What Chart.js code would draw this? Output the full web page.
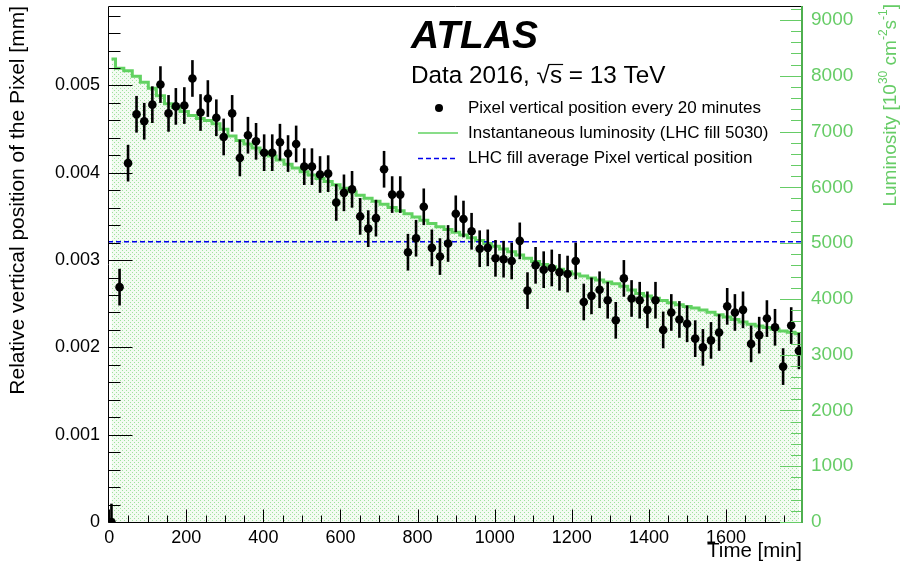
<!DOCTYPE html>
<html><head><meta charset="utf-8">
<script src="https://cdn.jsdelivr.net/npm/chart.js@4.4.0/dist/chart.umd.min.js"></script>
<style>html,body{margin:0;padding:0;background:#fff;overflow:hidden}</style>
</head><body>
<canvas id="c" width="904" height="573"></canvas>
<script>
// ---- data ----
const timeMin = [6,27,49,71,91,112,133,154,173,195,
  216,237,256,278,297,319,339,360,381,402,
  423,443,464,485,506,526,547,568,589,609,
  630,651,672,692,713,734,755,775,796,816,
  837,858,879,899,919,940,961,982,1002,1023,
  1044,1065,1085,1106,1127,1148,1168,1189,1210,1231,
  1251,1272,1293,1314,1335,1355,1376,1396,1417,1437,
  1458,1479,1499,1520,1540,1561,1582,1603,1623,1644,
  1665,1686,1706,1727,1748,1769,1789];
const pixelPos = [0,0.00269,0.00411,0.00467,0.00459,0.00478,0.00501,0.00468,0.00476,0.00477,
  0.00508,0.00469,0.00485,0.00463,0.00441,0.00468,0.00417,0.00443,0.00436,0.00423,
  0.00423,0.00435,0.00422,0.00433,0.00407,0.00407,0.00398,0.00399,0.00366,0.00377,
  0.00381,0.00350,0.00336,0.00348,0.00404,0.00375,0.00375,0.00309,0.00325,0.00361,
  0.00314,0.00304,0.00319,0.00353,0.00347,0.00333,0.00313,0.00314,0.00302,0.00301,
  0.00299,0.00322,0.00265,0.00294,0.00289,0.00291,0.00286,0.00284,0.00299,0.00252,
  0.00259,0.00266,0.00254,0.00231,0.00279,0.00256,0.00254,0.00243,0.00254,0.00220,
  0.00240,0.00232,0.00227,0.00210,0.00200,0.00208,0.00217,0.00247,0.00240,0.00243,
  0.00204,0.00214,0.00233,0.00223,0.00178,0.00225,0.00196];
const posError = 0.00021;
const luminosity = [8300,8134,8090,7990,7885,7775,7640,7500,7430,7360,
  7290,7235,7200,7140,7040,6920,6840,6775,6705,6635,
  6560,6490,6415,6345,6280,6220,6160,6105,6045,5985,
  5920,5860,5805,5750,5695,5640,5580,5525,5470,5410,
  5350,5295,5245,5195,5145,5095,5045,4995,4945,4895,
  4845,4785,4730,4670,4615,4575,4530,4485,4445,4410,
  4375,4340,4305,4270,4225,4160,4095,4050,4010,3970,
  3930,3895,3865,3835,3800,3760,3715,3675,3630,3585,
  3545,3515,3485,3455,3425,3400,3375];
const fillAveragePos = 0.00321;
const xTickValues = [0,200,400,600,800,1000,1200,1400,1600];
const yTickValues = [0,0.001,0.002,0.003,0.004,0.005];
const lumiTickValues = [0,1000,2000,3000,4000,5000,6000,7000,8000,9000];
const legendLabels = ['Pixel vertical position every 20 minutes',
  'Instantaneous luminosity (LHC fill 5030)',
  'LHC fill average Pixel vertical position'];

// ---- style ----
const FONT = "'Liberation Sans', Arial, Helvetica, sans-serif";
const X_MIN = -3, X_MAX = 1797, Y_MAX = 0.00591, L_MAX = 9251;
const GREEN = '#62d262', GREEN_TXT = '#66cc66', GREEN_AXIS = '#4faf4f', BLUE = '#0000ee';
Chart.defaults.font.family = FONT;

const canvas = document.getElementById('c');
const ctx0 = canvas.getContext('2d');
function makePattern() {
  const t = document.createElement('canvas'); t.width = 4; t.height = 4;
  const g = t.getContext('2d');
  g.fillStyle = 'rgb(243,251,242)'; g.fillRect(0,0,4,4);
  g.fillStyle = 'rgb(160,226,158)';
  g.fillRect(0,0,1,1); g.fillRect(2,2,1,1);
  return ctx0.createPattern(t, 'repeat');
}

function line(ctx, x1, y1, x2, y2) { ctx.beginPath(); ctx.moveTo(x1, y1); ctx.lineTo(x2, y2); ctx.stroke(); }

const decor = {
  id: 'decor',
  afterDatasetsDraw(chart) {
    const {ctx, chartArea: a, scales: {x, y, y1}} = chart;
    ctx.save();
    ctx.beginPath(); ctx.rect(a.left, a.top, a.right - a.left, a.bottom - a.top); ctx.clip();
    // error bars
    ctx.strokeStyle = '#000'; ctx.lineWidth = 2.6;
    timeMin.forEach((t, i) => {
      const px = x.getPixelForValue(t);
      line(ctx, px, y.getPixelForValue(pixelPos[i] + posError), px, y.getPixelForValue(pixelPos[i] - posError));
    });
    ctx.restore();
    ctx.save();
    // frame
    ctx.strokeStyle = '#000'; ctx.lineWidth = 1;
    const L = Math.round(a.left) + 0.5, B = Math.round(a.bottom) + 0.5, T = Math.round(a.top) + 0.5;
    line(ctx, L, T, a.right, T);
    line(ctx, L, T, L, B);
    line(ctx, L, B, a.right, B);
    // x ticks
    for (let v = 0; v <= X_MAX; v += 50) {
      const p = Math.round(x.getPixelForValue(v)) + 0.5;
      line(ctx, p, B, p, B - (v % 200 === 0 ? 13 : 7));
    }
    // left ticks
    for (let k = 0; k * 0.0002 <= Y_MAX; k++) {
      const p = Math.round(y.getPixelForValue(k * 0.0002)) + 0.5;
      line(ctx, L, p, L + (k % 5 === 0 ? 24 : 12), p);
    }
    // right ticks
    ctx.strokeStyle = GREEN_TXT;
    const R = a.right;
    for (let v = 0; v <= L_MAX; v += 200) {
      const p = Math.round(y1.getPixelForValue(v)) + 0.5;
      line(ctx, R, p, R - (v % 1000 === 0 ? 22 : 11), p);
    }
    ctx.strokeStyle = GREEN_AXIS; ctx.lineWidth = 2;
    line(ctx, R, a.top, R, a.bottom + 1);
    ctx.restore();
  },
  afterDraw(chart) {
    const ctx = chart.ctx;
    ctx.save();
    ctx.fillStyle = '#000';
    ctx.textBaseline = 'alphabetic';
    ctx.font = 'italic bold 39px ' + FONT;
    ctx.fillText('ATLAS', 411, 48);
    ctx.font = '24.3px ' + FONT;
    const pre = 'Data 2016, √';
    ctx.fillText(pre + 's = 13 TeV', 411, 83);
    const w1 = ctx.measureText(pre).width, w2 = ctx.measureText('s').width;
    ctx.lineWidth = 1.2; ctx.strokeStyle = '#000';
    line(ctx, 411 + w1 - 1, 64.5, 411 + w1 + w2 + 1, 64.5);
    // legend
    const rows = [108, 133, 158];
    ctx.beginPath(); ctx.arc(439, rows[0], 4, 0, Math.PI * 2); ctx.fill();
    ctx.strokeStyle = GREEN; ctx.lineWidth = 1.6; line(ctx, 418, rows[1], 458, rows[1]);
    ctx.strokeStyle = BLUE; ctx.lineWidth = 1.3; ctx.setLineDash([5, 3]); line(ctx, 418, rows[2] + 0.5, 458, rows[2] + 0.5); ctx.setLineDash([]);
    ctx.font = '17px ' + FONT; ctx.textBaseline = 'middle'; ctx.fillStyle = '#000';
    legendLabels.forEach((s, i) => ctx.fillText(s, 468, rows[i]));
    // right axis title (rotated, bottom-to-top, with superscripts)
    ctx.translate(891, 0); ctx.rotate(-Math.PI / 2);
    ctx.fillStyle = GREEN_TXT; ctx.textBaseline = 'middle';
    const parts = [['Luminosity [10', 0], ['30', 1], [' cm', 0], ['-2', 1], ['s', 0], ['-1', 1], [']', 0]];
    const fMain = '19px ' + FONT, fSup = '12px ' + FONT;
    let total = 0;
    parts.forEach(([s, sup]) => { ctx.font = sup ? fSup : fMain; total += ctx.measureText(s).width; });
    let xp = -4 - total;
    parts.forEach(([s, sup]) => {
      ctx.font = sup ? fSup : fMain;
      ctx.fillText(s, xp, sup ? -7 : 0);
      xp += ctx.measureText(s).width;
    });
    ctx.restore();
  }
};

const noPadV = s => { s.paddingTop = 0; s.paddingBottom = 0; };

new Chart(canvas, {
  type: 'line',
  data: {
    datasets: [
      {
        label: legendLabels[0], order: 0, yAxisID: 'y', showLine: false,
        data: timeMin.map((t, i) => ({x: t, y: pixelPos[i]})),
        pointRadius: 4.3, pointHoverRadius: 4.3, pointBackgroundColor: '#000', pointBorderColor: '#000', pointBorderWidth: 0
      },
      {
        label: legendLabels[2], order: 1, yAxisID: 'y',
        data: [{x: X_MIN, y: fillAveragePos}, {x: X_MAX, y: fillAveragePos}],
        borderColor: BLUE, borderWidth: 1.4, borderDash: [5, 3], pointRadius: 0, fill: false
      },
      {
        label: legendLabels[1], order: 2, yAxisID: 'y1', stepped: 'middle',
        data: timeMin.map((t, i) => ({x: t, y: luminosity[i]})),
        borderColor: GREEN, borderWidth: 3, pointRadius: 0,
        fill: 'origin', backgroundColor: makePattern()
      }
    ]
  },
  options: {
    responsive: false, animation: false, events: [],
    layout: {padding: {top: 6, left: 0, right: 0, bottom: 0}},
    plugins: {legend: {display: false}, tooltip: {enabled: false}},
    scales: {
      x: {
        type: 'linear', position: 'bottom', min: X_MIN, max: X_MAX,
        afterFit: s => { s.height = 51; s.paddingLeft = 0; s.paddingRight = 0; },
        afterBuildTicks: s => { s.ticks = xTickValues.map(v => ({value: v})); },
        grid: {display: false, drawTicks: false}, border: {display: false},
        ticks: {font: {size: 18}, color: '#000', padding: 5, maxRotation: 0, autoSkip: false, callback: v => String(v)},
        title: {display: true, text: 'Time [min]', align: 'end', color: '#000', font: {size: 20.5}, padding: {top: 0, bottom: 9}}
      },
      y: {
        type: 'linear', position: 'left', min: 0, max: Y_MAX,
        afterFit: s => { s.width = 108; noPadV(s); },
        afterBuildTicks: s => { s.ticks = yTickValues.map(v => ({value: v})); },
        grid: {display: false, drawTicks: false}, border: {display: false},
        ticks: {font: {size: 18}, color: '#000', padding: 8, autoSkip: false, callback: v => v === 0 ? '0' : v.toFixed(3)},
        title: {display: true, text: 'Relative vertical position of the Pixel [mm]', align: 'end', color: '#000', font: {size: 21}, padding: {top: 6, bottom: 0}}
      },
      y1: {
        type: 'linear', position: 'right', min: 0, max: L_MAX,
        afterFit: s => { s.width = 102; noPadV(s); },
        afterBuildTicks: s => { s.ticks = lumiTickValues.map(v => ({value: v})); },
        grid: {display: false, drawTicks: false}, border: {display: false},
        ticks: {font: {size: 19}, color: GREEN_TXT, padding: 9, autoSkip: false, callback: v => String(v)}
      }
    }
  },
  plugins: [decor]
});
</script>
</body></html>
